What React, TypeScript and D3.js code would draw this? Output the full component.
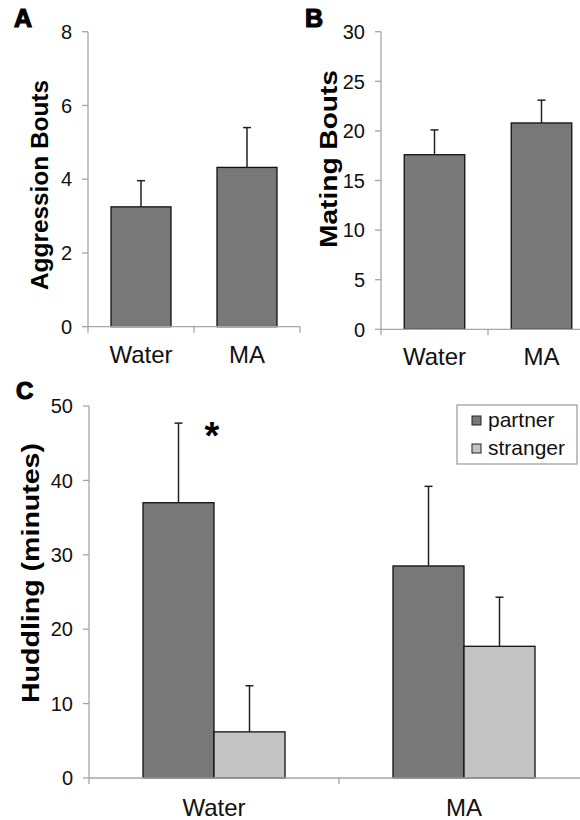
import React from 'react';
import * as d3 from 'd3';

const groups = ['Water', 'MA'];

// Panel A
const aggressionMeans = [3.25, 4.32];
const aggressionSem = [0.71, 1.08];
const aggressionTicks = [0, 2, 4, 6, 8];

// Panel B
const matingMeans = [17.6, 20.8];
const matingSem = [2.5, 2.3];
const matingTicks = [0, 5, 10, 15, 20, 25, 30];

// Panel C
const huddleSeries = ['partner', 'stranger'];
const partnerMeans = [37.0, 28.5];
const partnerSem = [10.7, 10.7];
const strangerMeans = [6.2, 17.7];
const strangerSem = [6.2, 6.6];
const huddleTicks = [0, 10, 20, 30, 40, 50];

const FONT = '"Liberation Sans", Arial, sans-serif';
const AXIS = '#a6a6a6';
const DARK = '#787878';
const LIGHT = '#c4c4c4';

const YAxis = ({ y, x, ticks }) => (
  <g>
    <line x1={x} x2={x} y1={y(ticks[ticks.length - 1])} y2={y(0)} stroke={AXIS} strokeWidth={1.3} />
    {ticks.map(t => (
      <g key={t}>
        <line x1={x - 6} x2={x} y1={y(t)} y2={y(t)} stroke={AXIS} strokeWidth={1.3} />
        <text x={x - 16} y={y(t)} dy="0.36em" textAnchor="end" fontSize={20} fontFamily={FONT} fill="#111">{t}</text>
      </g>
    ))}
  </g>
);

const XAxis = ({ x, y0, labelY, clipRight }) => {
  const [r0, r1] = x.range();
  const bounds = [r0, ...x.domain().map(d => x(d) - (x.step() - x.bandwidth()) / 2 + x.step())];
  return (
    <g>
      <line x1={r0} x2={Math.min(r1, clipRight)} y1={y0} y2={y0} stroke={AXIS} strokeWidth={1.3} />
      {bounds.map((b, i) => (
        <line key={i} x1={b} x2={b} y1={y0} y2={y0 + 6} stroke={AXIS} strokeWidth={1.3} />
      ))}
      {x.domain().map(d => (
        <text key={d} x={x(d) + x.bandwidth() / 2} y={labelY} textAnchor="middle" fontSize={24} fontFamily={FONT} fill="#111">{d}</text>
      ))}
    </g>
  );
};

const ErrorBar = ({ cx, yTop, yBar }) => (
  <g stroke="#222" strokeWidth={1.5}>
    <line x1={cx} x2={cx} y1={yBar} y2={yTop} />
    <line x1={cx - 4} x2={cx + 4} y1={yTop} y2={yTop} />
  </g>
);

const SimplePanel = ({ means, sem, ticks, xRange, yRange, label, labelPos, title, titleLen, letter, letterX }) => {
  const x = d3.scaleBand().domain(groups).range(xRange).paddingInner(0.434).paddingOuter(0.217);
  const y = d3.scaleLinear().domain([0, ticks[ticks.length - 1]]).range(yRange);
  return (
    <g>
      <text x={letterX} y={27} fontSize={25} fontWeight="bold" fontFamily={FONT} stroke="#000" strokeWidth={1.2}>{letter}</text>
      <text transform={`translate(${labelPos[0]},${labelPos[1]}) rotate(-90)`} textAnchor="middle" dy="0.35em"
        fontSize={24} fontWeight="bold" fontFamily={FONT} textLength={titleLen} lengthAdjust="spacingAndGlyphs">{title}</text>
      <YAxis y={y} x={xRange[0]} ticks={ticks} />
      {groups.map((g, i) => (
        <g key={g}>
          <rect x={x(g)} y={y(means[i])} width={x.bandwidth()} height={y(0) - y(means[i])} fill={DARK} stroke="#111" strokeWidth={1.3} />
          <ErrorBar cx={x(g) + x.bandwidth() / 2} yTop={y(means[i] + sem[i])} yBar={y(means[i])} />
        </g>
      ))}
      <XAxis x={x} y0={y(0)} labelY={label} clipRight={580} />
    </g>
  );
};

const HuddlePanel = () => {
  const x = d3.scaleBand().domain(groups).range([89, 589]).paddingInner(0.432).paddingOuter(0.216);
  const sub = d3.scaleBand().domain(huddleSeries).range([0, x.bandwidth()]);
  const y = d3.scaleLinear().domain([0, 50]).range([778, 406]);
  const series = [
    { key: 'partner', means: partnerMeans, sem: partnerSem, fill: DARK },
    { key: 'stranger', means: strangerMeans, sem: strangerSem, fill: LIGHT },
  ];
  return (
    <g>
      <text x={16} y={399} fontSize={24} fontWeight="bold" fontFamily={FONT} stroke="#000" strokeWidth={1.2}>C</text>
      <text transform="translate(31,573) rotate(-90)" textAnchor="middle" dy="0.35em"
        fontSize={24} fontWeight="bold" fontFamily={FONT} textLength={260} lengthAdjust="spacingAndGlyphs">Huddling (minutes)</text>
      <YAxis y={y} x={89} ticks={huddleTicks} />
      {series.map(s => groups.map((g, i) => {
        const bx = x(g) + sub(s.key);
        return (
          <g key={s.key + g}>
            <rect x={bx} y={y(s.means[i])} width={sub.bandwidth()} height={y(0) - y(s.means[i])} fill={s.fill} stroke="#111" strokeWidth={1.3} />
            <ErrorBar cx={bx + sub.bandwidth() / 2} yTop={y(s.means[i] + s.sem[i])} yBar={y(s.means[i])} />
          </g>
        );
      }))}
      <text x={x('Water') + sub('stranger') - 2} y={y(partnerMeans[0] + partnerSem[0]) + 26} textAnchor="middle"
        fontSize={38} fontWeight="bold" fontFamily={FONT}>*</text>
      <XAxis x={x} y0={y(0)} labelY={816} clipRight={580} />
      <g>
        <rect x={457} y={405} width={120} height={59} fill="#fff" stroke="#999" strokeWidth={1.2} />
        {series.map((s, i) => (
          <g key={s.key}>
            <rect x={472} y={416 + i * 28} width={9} height={9} fill={s.fill} stroke="#222" strokeWidth={1} />
            <text x={488} y={427 + i * 28} fontSize={21} fontFamily={FONT} fill="#111">{s.key}</text>
          </g>
        ))}
      </g>
    </g>
  );
};

export default function App() {
  return (
    <svg width={580} height={820} style={{ position: 'absolute', left: 0, top: 0, background: '#fff' }}>
      <rect width={580} height={820} fill="#fff" />
      <SimplePanel means={aggressionMeans} sem={aggressionSem} ticks={aggressionTicks}
        xRange={[88, 300]} yRange={[326.7, 31.7]} label={363} labelPos={[40, 185]}
        title="Aggression Bouts" titleLen={210} letter="A" letterX={14} />
      <SimplePanel means={matingMeans} sem={matingSem} ticks={matingTicks}
        xRange={[381, 595]} yRange={[329.3, 31.7]} label={365} labelPos={[329, 159]}
        title="Mating Bouts" titleLen={178} letter="B" letterX={305} />
      <HuddlePanel />
    </svg>
  );
}
